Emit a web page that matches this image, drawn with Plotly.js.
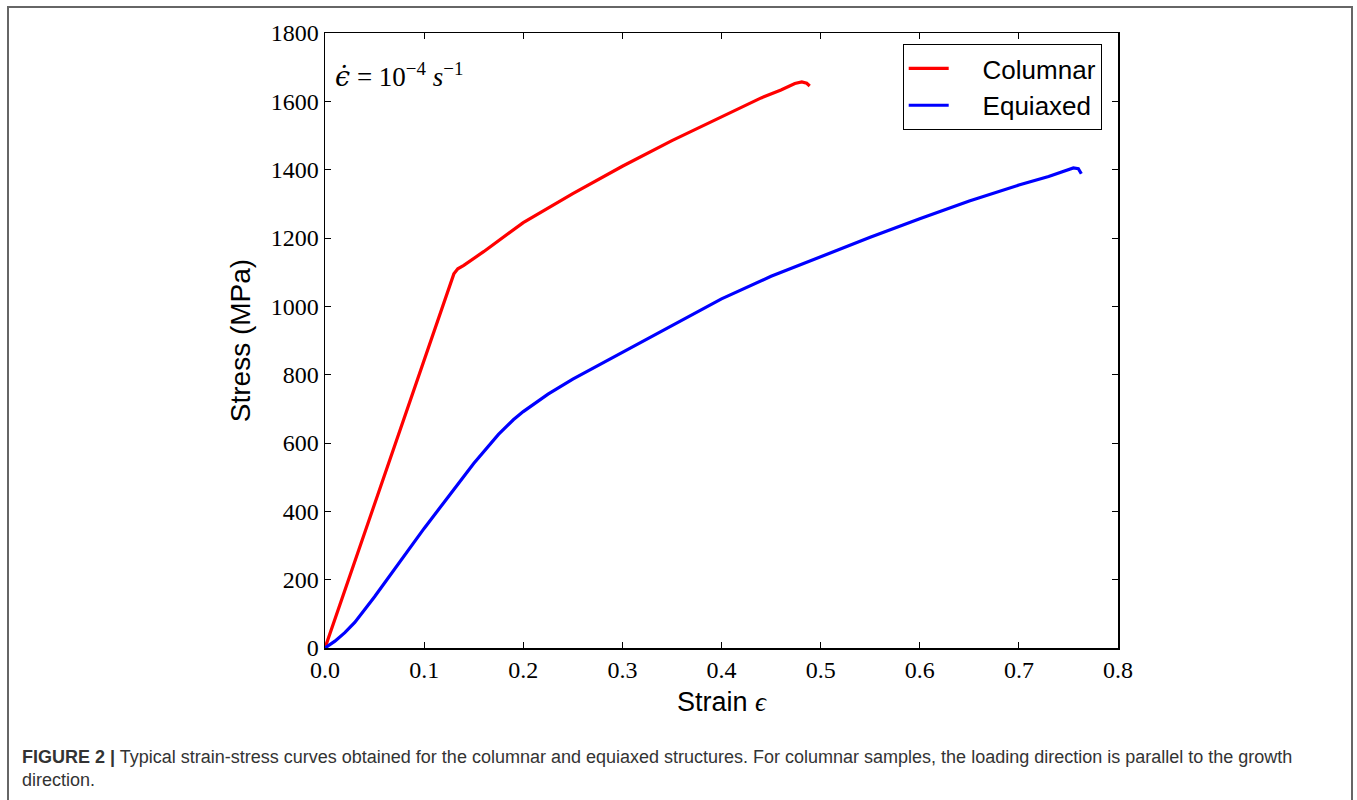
<!DOCTYPE html>
<html>
<head>
<meta charset="utf-8">
<script src="https://cdn.plot.ly/plotly-3.0.1.min.js"></script>
<style>
  html, body { margin: 0; padding: 0; background: #fff; overflow: hidden; }
  #frame { position: absolute; left: 7px; top: 6px; width: 1346px; height: 820px;
           border: 2px solid #666; border-bottom: none; box-sizing: border-box; }
  #chart { position: absolute; left: 0; top: 0; width: 1357px; height: 800px; }
</style>
</head>
<body>
<div id="frame"></div>
<div id="chart"></div>
<script>
// Columnar (red)
const columnarStrain = [0, 0.03, 0.06, 0.09, 0.12, 0.126, 0.13, 0.134, 0.14, 0.16, 0.2, 0.25, 0.3, 0.35, 0.4, 0.44, 0.46, 0.474, 0.481, 0.486, 0.489];
const columnarStress = [0, 253, 506, 760, 1013, 1065, 1095, 1110, 1120, 1160, 1245, 1330, 1410, 1485, 1555, 1610, 1633, 1652, 1657, 1653, 1645];
// Equiaxed (blue)
const equiaxedStrain = [0, 0.01, 0.02, 0.03, 0.05, 0.075, 0.1, 0.125, 0.15, 0.175, 0.19, 0.2, 0.21, 0.225, 0.25, 0.3, 0.35, 0.4, 0.45, 0.5, 0.55, 0.6, 0.65, 0.7, 0.73, 0.755, 0.76, 0.763];
const equiaxedStress = [0, 20, 45, 75, 150, 250, 350, 445, 540, 625, 668, 692, 712, 743, 787, 866, 945, 1022, 1088, 1145, 1202, 1256, 1308, 1355, 1380, 1405, 1403, 1388];

const xTicks = [0, 0.1, 0.2, 0.3, 0.4, 0.5, 0.6, 0.7, 0.8];
const xTickLabels = ['0.0', '0.1', '0.2', '0.3', '0.4', '0.5', '0.6', '0.7', '0.8'];
const yTicks = [0, 200, 400, 600, 800, 1000, 1200, 1400, 1600, 1800];

const seriesNames = ['Columnar', 'Equiaxed'];

const serif = 'Liberation Serif, DejaVu Serif, serif';
const sans = 'Liberation Sans, Arial, sans-serif';
const pad = '\u00a0\u00a0\u00a0\u00a0';

const traces = [
  { x: columnarStrain, y: columnarStress, name: pad + seriesNames[0], mode: 'lines',
    line: { color: '#ff0000', width: 3.2 } },
  { x: equiaxedStrain, y: equiaxedStress, name: pad + seriesNames[1], mode: 'lines',
    line: { color: '#0000ff', width: 3.2 } }
];

const axisCommon = {
  showline: true, mirror: 'ticks', linecolor: '#000', linewidth: 1.5,
  ticks: 'inside', ticklen: 6, tickwidth: 1, tickcolor: '#000',
  showgrid: false, zeroline: false,
  tickfont: { family: serif, size: 24, color: '#000' }
};

const layout = {
  width: 1357, height: 800,
  paper_bgcolor: 'rgba(0,0,0,0)', plot_bgcolor: '#fff',
  margin: { l: 325, r: 239, t: 33, b: 152 },
  showlegend: true,
  legend: {
    x: 0.7285, y: 0.982, xanchor: 'left', yanchor: 'top',
    bordercolor: '#000', borderwidth: 1, bgcolor: '#fff',
    font: { family: sans, size: 26, color: '#000' },
    itemwidth: 40, tracegroupgap: 0
  },
  xaxis: Object.assign({}, axisCommon, {
    range: [0, 0.8], tickvals: xTicks, ticktext: xTickLabels,
    title: { text: 'Strain <span style="font-family:Liberation Serif;font-style:italic">ϵ</span>', font: { family: sans, size: 27, color: '#000' }, standoff: 10 }
  }),
  yaxis: Object.assign({}, axisCommon, {
    range: [0, 1800], tickvals: yTicks,
    title: { text: 'Stress (MPa)', font: { family: sans, size: 28, color: '#000' }, standoff: 12 }
  }),
  annotations: [
    { xref: 'paper', yref: 'paper', x: 0.01, y: 0.962, xanchor: 'left', yanchor: 'top',
      showarrow: false, align: 'left',
      text: '<span style="font-family:DejaVu Serif;font-style:italic">ϵ̇</span> = 10<sup>−4</sup> <i>s</i><sup>−1</sup>',
      font: { family: serif, size: 27, color: '#000' } },
    { xref: 'paper', yref: 'paper', x: -0.384, y: -0.158, xanchor: 'left', yanchor: 'top',
      showarrow: false, align: 'left',
      text: '<b>FIGURE 2 |</b> Typical strain-stress curves obtained for the columnar and equiaxed structures. For columnar samples, the loading direction is parallel to the growth<br>direction.',
      font: { family: sans, size: 18, color: '#333' } }
  ]
};

Plotly.newPlot('chart', traces, layout, { displayModeBar: false, staticPlot: true });
</script>
</body>
</html>
